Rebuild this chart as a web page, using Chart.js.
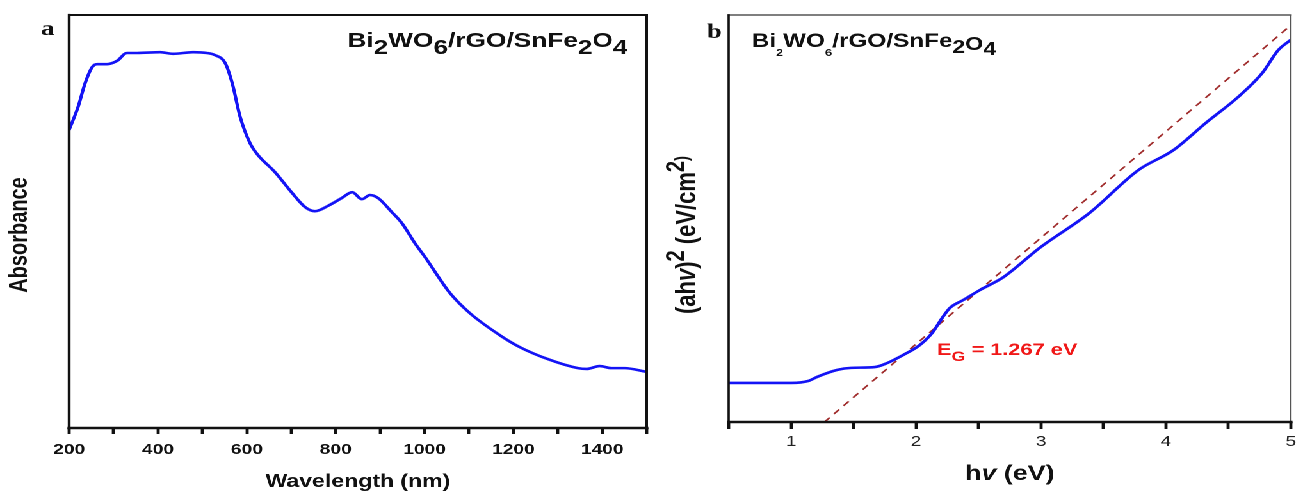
<!DOCTYPE html>
<html>
<head>
<meta charset="utf-8">
<title>Bi2WO6/rGO/SnFe2O4 absorbance and Tauc plot</title>
<script src="https://cdn.jsdelivr.net/npm/chart.js@4.4.1/dist/chart.umd.min.js"></script>
<style>
  html, body { margin: 0; padding: 0; background: #fff; overflow: hidden; }
  /* the source figure is stretched sideways, so the whole sheet is scaled on x */
  #sheet { position: absolute; left: 0; top: 0; width: 1012px; height: 492px;
           transform: scaleX(1.2806); transform-origin: 0 0; }
  #boxA { position: absolute; left: 0; top: 0; width: 515px; height: 492px; }
  #boxB { position: absolute; left: 515px; top: 0; width: 497px; height: 492px; }
</style>
</head>
<body>
<div id="sheet">
  <div id="boxA"><canvas id="absChart"></canvas></div>
  <div id="boxB"><canvas id="taucChart"></canvas></div>
</div>
<script>
// Panel a: UV-vis absorbance (arbitrary units)
const wavelength = [200, 220, 236, 252, 263, 285, 308, 330, 353, 405, 434, 479, 510, 528, 551, 567,
  585, 607, 625, 663, 702, 731, 753, 783, 814, 837, 859, 877, 895, 926, 949, 978, 1001,
  1057, 1102, 1169, 1214, 1282, 1345, 1365, 1394, 1421, 1450, 1500];
const absorbance = [72.2, 77.7, 83.5, 87.4, 88.1, 88.1, 88.9, 90.8, 90.8, 91.0, 90.6, 91.0, 90.8, 90.3, 88.4, 83.5,
  75.3, 69.0, 66.1, 62.0, 56.9, 53.5, 52.5, 53.8, 55.7, 57.1, 55.4, 56.4, 55.7, 52.3, 49.6, 44.8, 41.4,
  32.7, 27.8, 22.5, 19.6, 16.5, 14.5, 14.3, 15.0, 14.5, 14.5, 13.6];
const wavelengthTicks = [200, 400, 600, 800, 1000, 1200, 1400];

// Panel b: Tauc plot (ahv)^2 vs photon energy
const photonEnergy = [0.5, 0.75, 1.0, 1.14, 1.21, 1.37, 1.48, 1.67, 1.77, 1.90, 2.03, 2.13, 2.21, 2.27,
  2.38, 2.51, 2.70, 2.99, 3.39, 3.78, 4.06, 4.32, 4.58, 4.77, 4.90, 5.0];
const taucValue = [9.6, 9.6, 9.6, 10.1, 11.1, 12.8, 13.3, 13.5, 14.5, 16.5, 18.9, 21.9, 25.6, 28.0,
  30.0, 32.4, 35.6, 42.8, 51.4, 61.9, 66.8, 73.5, 79.9, 85.7, 91.4, 93.9];
const fitEnergy = [1.267, 5.0];
const fitValue = [0, 97.5];
const energyTicks = [1, 2, 3, 4, 5];
const bandGap = 'E_G = 1.267 eV';

const SANS = '"Liberation Sans", Arial, sans-serif';
const SERIF = '"Liberation Serif", "Times New Roman", serif';
const BLUE = '#1414f5';

// draws a row of text pieces with their own size / raise (for sub- and superscripts)
function drawRuns(ctx, runs, x, y, align) {
  const fontOf = r => `${r.italic ? 'italic ' : ''}bold ${r.size}px ${SANS}`;
  let total = 0;
  runs.forEach(r => { ctx.font = fontOf(r); total += ctx.measureText(r.t).width; });
  let cx = align === 'center' ? x - total / 2 : align === 'right' ? x - total : x;
  ctx.textAlign = 'left';
  runs.forEach(r => {
    ctx.font = fontOf(r);
    ctx.fillText(r.t, cx, y + (r.dy || 0));
    cx += ctx.measureText(r.t).width;
  });
}

function drawFrame(chart, sides) {
  const { ctx, chartArea: a } = chart;
  const lines = {
    top: [a.left, a.top, a.right, a.top],
    bottom: [a.left, a.bottom, a.right, a.bottom],
    left: [a.left, a.top, a.left, a.bottom],
    right: [a.right, a.top, a.right, a.bottom]
  };
  ctx.save();
  ctx.lineCap = 'square';
  Object.keys(sides).forEach(k => {
    const [w, c] = sides[k];
    const p = lines[k];
    ctx.strokeStyle = c;
    ctx.lineWidth = w;
    ctx.beginPath();
    ctx.moveTo(p[0], p[1]);
    ctx.lineTo(p[2], p[3]);
    ctx.stroke();
  });
  ctx.restore();
}

const panelA = {
  id: 'panelA',
  afterDraw(chart) {
    const { ctx, chartArea: a } = chart;
    drawFrame(chart, { top: [2, '#111'], right: [2, '#111'], left: [2.2, '#111'], bottom: [2.6, '#111'] });
    ctx.save();
    ctx.fillStyle = '#111';
    ctx.textBaseline = 'alphabetic';
    ctx.font = `bold 21px ${SERIF}`;
    ctx.fillText('a', 32, 35);
    drawRuns(ctx, [
      { t: 'Bi', size: 20.5 }, { t: '2', size: 20.5, dy: 7 }, { t: 'WO', size: 20.5 }, { t: '6', size: 20.5, dy: 7 },
      { t: '/rGO/SnFe', size: 20.5 }, { t: '2', size: 20.5, dy: 7 }, { t: 'O', size: 20.5 }, { t: '4', size: 20.5, dy: 7 }
    ], a.right - 15, 47, 'right');
    ctx.textBaseline = 'middle';
    ctx.textAlign = 'center';
    ctx.font = `bold 18px ${SANS}`;
    ctx.fillText('Wavelength (nm)', (a.left + a.right) / 2, 482);
    ctx.translate(15.6, 235);
    ctx.rotate(-Math.PI / 2);
    ctx.font = `bold 20px ${SANS}`;
    ctx.fillText('Absorbance', 0, 0);
    ctx.restore();
  }
};

const panelB = {
  id: 'panelB',
  afterDraw(chart) {
    const { ctx, chartArea: a, scales } = chart;
    drawFrame(chart, { top: [1.3, '#333'], right: [1.2, '#555'], left: [1.8, '#111'], bottom: [2.6, '#111'] });
    ctx.save();
    ctx.fillStyle = '#111';
    ctx.textBaseline = 'alphabetic';
    ctx.font = `bold 21px ${SERIF}`;
    ctx.fillText('b', 37, 38);
    drawRuns(ctx, [
      { t: 'Bi', size: 19 }, { t: '2', size: 10, dy: 9 }, { t: 'WO', size: 19 }, { t: '6', size: 10, dy: 9 },
      { t: '/rGO/SnFe', size: 19 }, { t: '2', size: 18, dy: 6 }, { t: 'O', size: 18, dy: 3 }, { t: '4', size: 18, dy: 8 }
    ], 72, 47, 'left');
    // last energy tick label sits on the right edge of the figure
    ctx.textBaseline = 'middle';
    ctx.textAlign = 'center';
    ctx.font = `15px ${SANS}`;
    ctx.fillStyle = '#222';
    ctx.fillText(String(energyTicks[energyTicks.length - 1]), scales.x.getPixelForValue(5), a.bottom + 20);
    ctx.textBaseline = 'alphabetic';
    ctx.fillStyle = '#111';
    drawRuns(ctx, [{ t: 'h', size: 21 }, { t: 'v', size: 21, italic: true }, { t: ' (eV)', size: 21 }],
      (a.left + a.right) / 2, 480, 'center');
    // band-gap label
    ctx.fillStyle = '#f01818';
    const parts = bandGap.split(' = ');
    drawRuns(ctx, [{ t: parts[0].split('_')[0], size: 17 }, { t: parts[0].split('_')[1], size: 14, dy: 6 },
      { t: ' = ' + parts[1], size: 17 }],
      scales.x.getPixelForValue(2.167), scales.y.getPixelForValue(16.5), 'left');
    // y title
    ctx.fillStyle = '#111';
    ctx.translate(20, 235);
    ctx.rotate(-Math.PI / 2);
    drawRuns(ctx, [
      { t: '(ah', size: 22 }, { t: 'v', size: 22, italic: true }, { t: ')', size: 22 }, { t: '2', size: 20, dy: -9 },
      { t: ' (eV/cm', size: 22 }, { t: '2', size: 20, dy: -9 }, { t: ')', size: 15, dy: -6 }
    ], 0, 8, 'center');
    ctx.restore();
  }
};

const tickGrid = (len) => ({
  display: true, drawOnChartArea: false, drawTicks: true,
  tickLength: len, tickWidth: 2.4, tickColor: '#111', color: '#111'
});

new Chart(document.getElementById('absChart'), {
  type: 'line',
  data: {
    datasets: [{
      data: wavelength.map((w, i) => ({ x: w, y: absorbance[i] })),
      borderColor: BLUE, borderWidth: 2.6, pointRadius: 0,
      cubicInterpolationMode: 'monotone', fill: false
    }]
  },
  options: {
    responsive: true, maintainAspectRatio: false, animation: false, devicePixelRatio: 2,
    layout: { padding: { left: 54, right: 10, top: 15, bottom: 0 } },
    plugins: { legend: { display: false }, tooltip: { enabled: false } },
    scales: {
      x: {
        type: 'linear', min: 200, max: 1500,
        afterFit: s => { s.height = 64; },
        border: { display: false },
        grid: tickGrid(6),
        ticks: {
          stepSize: 100, autoSkip: false, maxRotation: 0, padding: 7, color: '#111',
          font: { family: SANS, size: 15, weight: 'bold' },
          callback: v => wavelengthTicks.includes(v) ? String(v) : ''
        }
      },
      y: { display: false, min: 0, max: 100 }
    }
  },
  plugins: [panelA]
});

new Chart(document.getElementById('taucChart'), {
  type: 'line',
  data: {
    datasets: [{
      data: photonEnergy.map((e, i) => ({ x: e, y: taucValue[i] })),
      borderColor: BLUE, borderWidth: 2.6, pointRadius: 0,
      cubicInterpolationMode: 'monotone', fill: false
    }, {
      data: fitEnergy.map((e, i) => ({ x: e, y: fitValue[i] })),
      borderColor: '#a02c2c', borderWidth: 1.5, borderDash: [6, 5], pointRadius: 0, fill: false
    }]
  },
  options: {
    responsive: true, maintainAspectRatio: false, animation: false, devicePixelRatio: 2,
    layout: { padding: { left: 54, right: 1, top: 15, bottom: 0 } },
    plugins: { legend: { display: false }, tooltip: { enabled: false } },
    scales: {
      x: {
        type: 'linear', min: 0.5, max: 5,
        afterFit: s => { s.height = 70; },
        border: { display: false },
        grid: tickGrid(7),
        ticks: {
          stepSize: 0.5, autoSkip: false, maxRotation: 0, padding: 4, color: '#222',
          font: { family: SANS, size: 15 },
          callback: v => (energyTicks.includes(v) && v < 5) ? String(v) : ''
        }
      },
      y: { display: false, min: 0, max: 100 }
    }
  },
  plugins: [panelB]
});
</script>
</body>
</html>
